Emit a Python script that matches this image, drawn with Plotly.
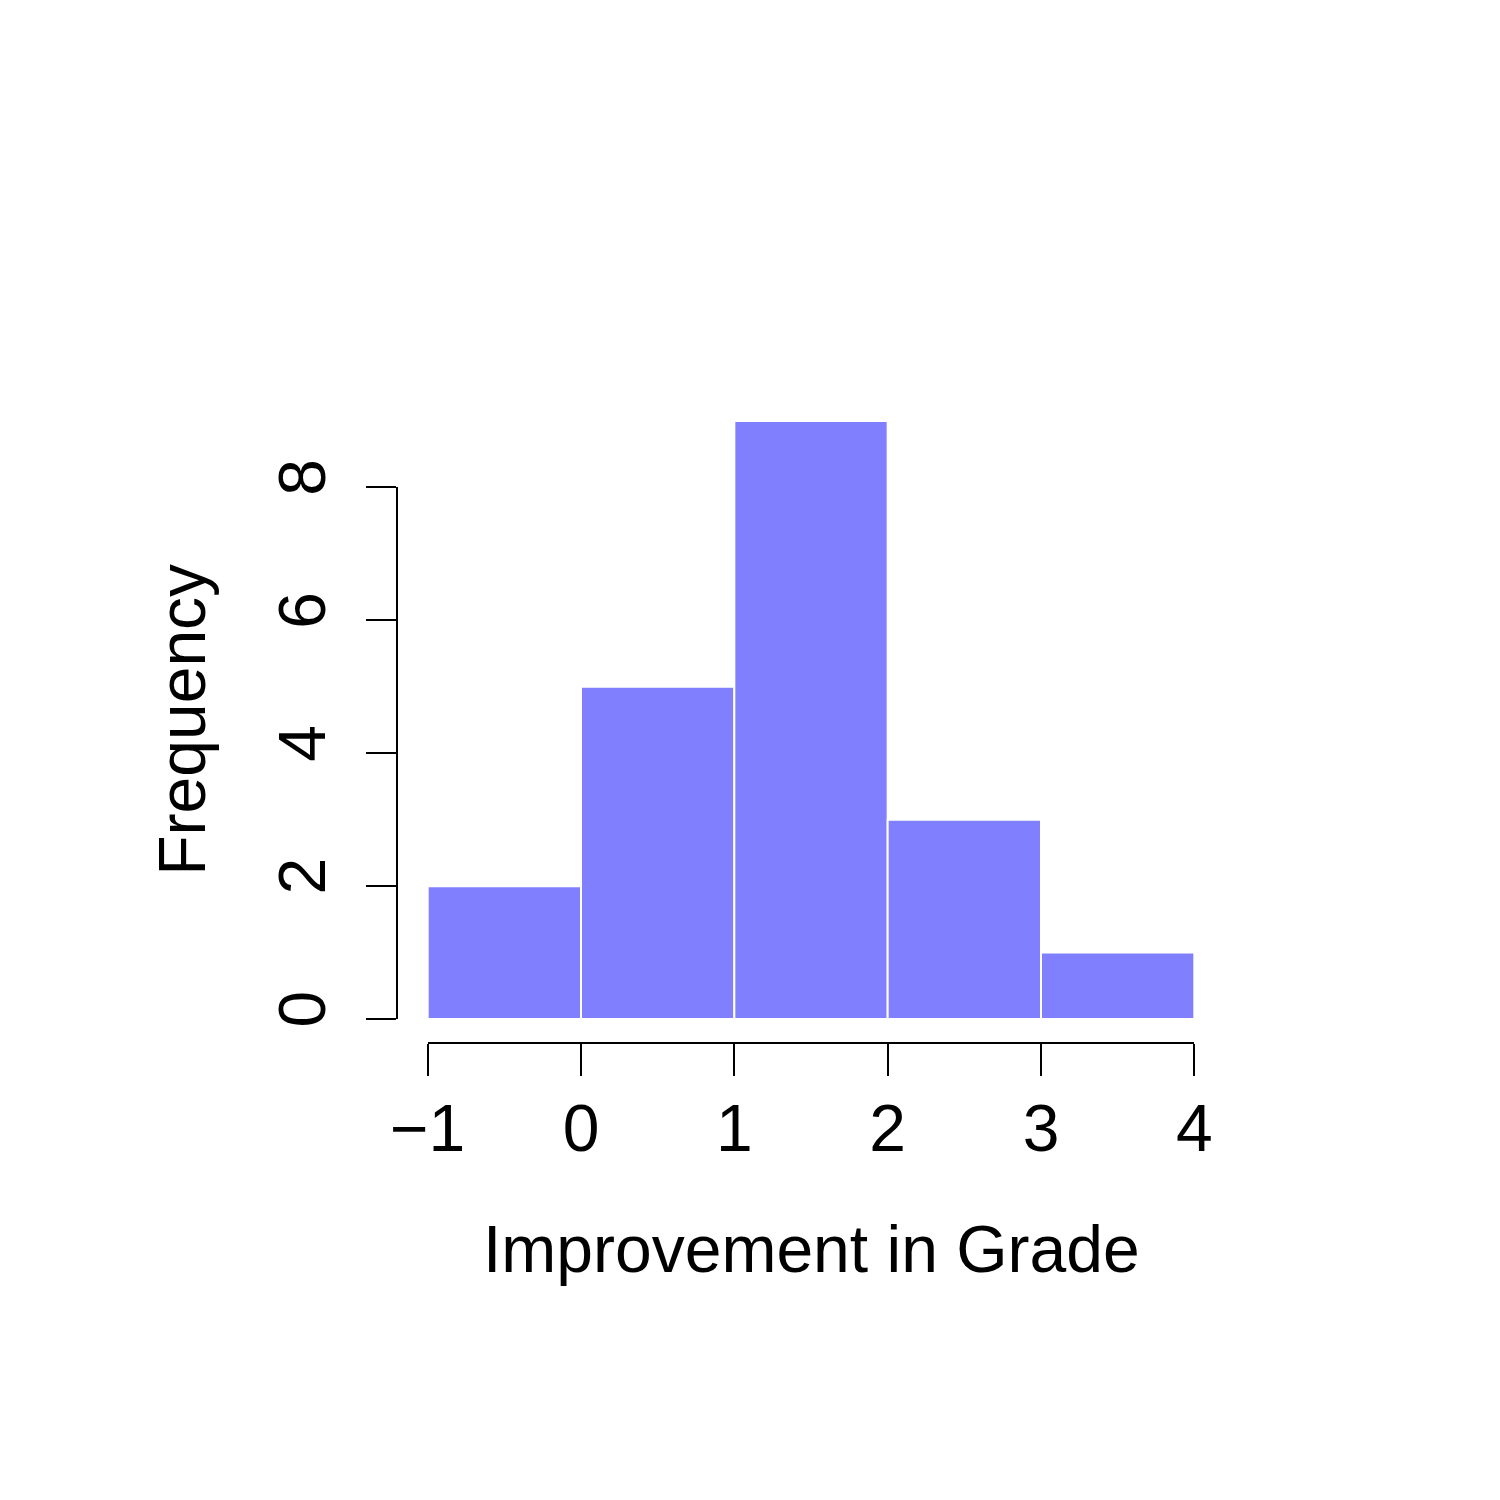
import plotly.graph_objects as go

# histogram of grade improvement
bin_left = [-1, 0, 1, 2, 3]
bin_width = [1, 1, 1, 1, 1]
counts = [2, 5, 9, 3, 1]
x_ticks = [-1, 0, 1, 2, 3, 4]
x_tick_text = ['\u22121', '0', '1', '2', '3', '4']
y_ticks = [0, 2, 4, 6, 8]

FONT = 'Liberation Sans, Arial, sans-serif'
fsize = 66

bar_mid = [l + w / 2 for l, w in zip(bin_left, bin_width)]

fig = go.Figure()
fig.add_trace(go.Bar(x=bar_mid, y=counts, width=bin_width,
                     marker=dict(color='#8080FF', line=dict(color='white', width=2)),
                     xaxis='x', yaxis='y', showlegend=False))

axis_off = dict(showline=False, showgrid=False, zeroline=False, showticklabels=False, ticks='')
tick_style = dict(showline=True, linecolor='black', linewidth=2, ticks='outside',
                  tickcolor='black', tickwidth=2, showgrid=False, zeroline=False,
                  tickfont=dict(family=FONT, size=fsize, color='black'))

# R pads the data range by 4% on each side
xr = [-1.2, 4.2]
yr = [-0.36, 9.36]

fig.update_layout(
    width=1500, height=1500,
    paper_bgcolor='white', plot_bgcolor='rgba(0,0,0,0)',
    margin=dict(l=389, r=283, t=389, b=465, pad=0),
    xaxis=dict(range=xr, domain=[0, 1], **axis_off),
    yaxis=dict(range=yr, domain=[0, 1], **axis_off),
    xaxis2=dict(range=[-1, 4], domain=[0.2 / 5.4, 1 - 0.2 / 5.4], anchor='free', position=0,
                tickvals=x_ticks, ticktext=x_tick_text, ticklen=32,
                ticklabelstandoff=-4, **tick_style),
    yaxis2=dict(range=[0, 8], domain=[0.36 / 9.72, 8.36 / 9.72], anchor='free', position=0,
                tickvals=y_ticks, ticklen=30, tickangle=-90,
                ticklabelstandoff=15, **tick_style),
    annotations=[
        dict(text='Improvement in Grade', xref='paper', yref='paper', x=0.5, y=-0.3186,
             xanchor='center', yanchor='middle', showarrow=False,
             font=dict(family=FONT, size=fsize, color='black')),
        dict(text='Frequency', xref='paper', yref='paper', x=-0.26, y=0.5, textangle=-90,
             xanchor='center', yanchor='middle', showarrow=False,
             font=dict(family=FONT, size=fsize, color='black')),
    ],
)
# empty trace so the tick axes get drawn
fig.add_trace(go.Scatter(x=[None], y=[None], xaxis='x2', yaxis='y2', showlegend=False, hoverinfo='skip'))

fig.write_html('out.html')
